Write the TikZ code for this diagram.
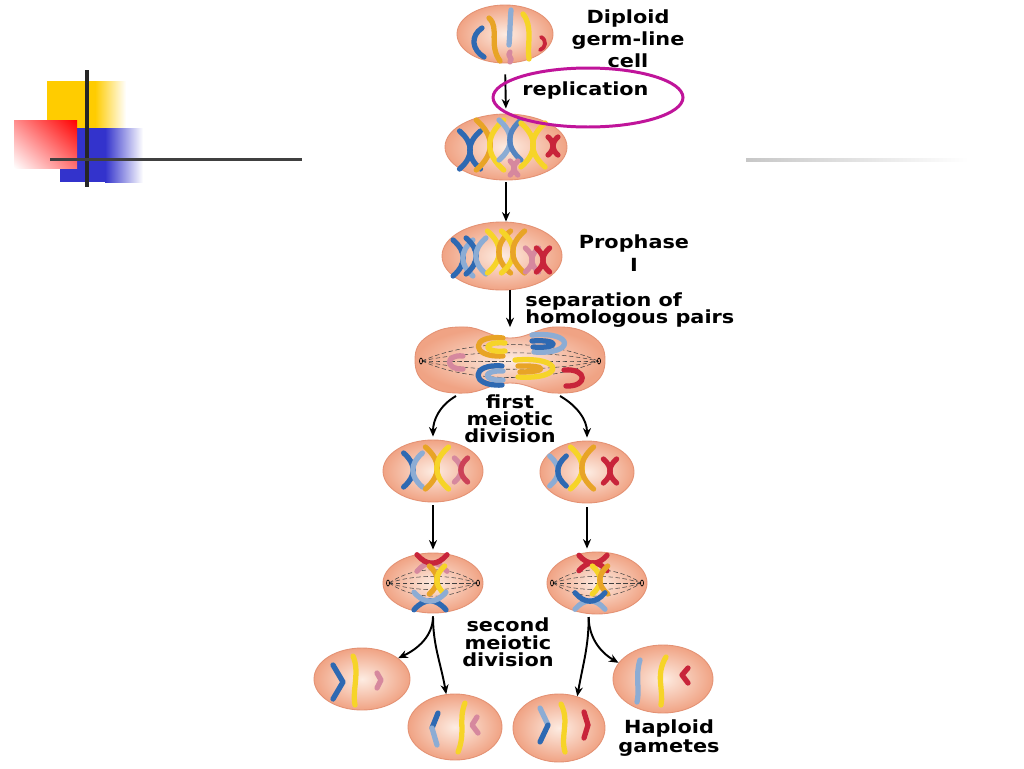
\documentclass[tikz,border=0pt]{standalone}
\usepackage{fontspec}
\setmainfont{DejaVu Sans}
\usetikzlibrary{arrows.meta,shapes.geometric,shadings}

\definecolor{cellin}{RGB}{253,236,226}
\definecolor{cellout}{RGB}{240,163,132}
\definecolor{cellrim}{RGB}{228,146,116}
\definecolor{chB}{RGB}{46,105,178}
\definecolor{chL}{RGB}{140,172,212}
\definecolor{chY}{RGB}{246,212,40}
\definecolor{chO}{RGB}{232,164,38}
\definecolor{chP}{RGB}{214,136,158}
\definecolor{chR}{RGB}{200,36,58}
\definecolor{ringc}{RGB}{192,20,154}
\definecolor{logoY}{RGB}{255,204,0}
\definecolor{logoB}{RGB}{51,51,204}

\tikzset{
  cell/.style={ellipse, draw=cellrim, line width=0.5pt, inner color=cellin, outer color=cellout, inner sep=0pt},
  arr/.style={line width=1.1pt, -{Stealth[length=1.9mm,width=1.6mm]}},
  lbl/.style={font={\bfseries\fontsize{10.3}{#1}\selectfont\lineskiplimit=-2em}, align=center, xscale=1.15, inner sep=0pt},
  lbl/.default=12.5pt,
  chrom/.style={line width=3pt, line cap=round, line join=round},
  spindle/.style={line width=0.3pt, black!75, dash pattern=on 2.5pt off 1.5pt},
}

% x y left right half-height
\newcommand\chrX[5]{%
  \draw[chrom,#3] (#1-0.55*#5,#2-#5) .. controls (#1+0.2*#5,#2-0.35*#5) and (#1+0.2*#5,#2+0.35*#5) .. (#1-0.55*#5,#2+#5);
  \draw[chrom,#4] (#1+0.55*#5,#2-#5) .. controls (#1-0.2*#5,#2-0.35*#5) and (#1-0.2*#5,#2+0.35*#5) .. (#1+0.55*#5,#2+#5);}

\begin{document}
\begin{tikzpicture}[x=0.02cm, y=-0.02cm]
    \useasboundingbox (0,0) rectangle (1024,768);
    \fill[white] (0,0) rectangle (1024,768);

    % corner logo
    \fill[logoY] (47,81) rectangle (96,130);
    \shade[left color=logoY, right color=white] (95,81) rectangle (126,130);
    \fill[logoB] (60,128) rectangle (106,182);
    \shade[left color=logoB, right color=white] (105,128) rectangle (143,182);
    \shade[upper right=red, upper left=red!45!white, lower left=white, lower right=red!55!white] (14,120) rectangle (77,168);
    \draw[line width=0.07cm, black!85] (87,70) -- (87,187);
    \draw[line width=0.06cm, black!75] (50,159) -- (302,159);
    \shade[left color=black!22, right color=white] (746,158.5) rectangle (968,161.5);

    % cells
    \node[cell, minimum width=1.92cm, minimum height=1.16cm] (c0) at (505,34) {};
    \node[cell, minimum width=2.44cm, minimum height=1.32cm] (c1) at (506,147) {};
    \node[cell, minimum width=2.4cm, minimum height=1.36cm] (c2) at (502,256) {};
    \node[minimum width=3.8cm, minimum height=1.3cm, inner sep=0pt] (m1) at (510,360) {};
    \draw[draw=cellrim, line width=0.5pt, inner color=cellin, outer color=cellout] plot[smooth cycle, tension=0.75] coordinates {(415,360) (428,336) (465,327) (510,338) (555,327) (592,336) (605,360) (592,385) (555,393) (510,383) (465,393) (428,385)};
    \node[cell, minimum width=2cm, minimum height=1.24cm] (l1) at (433,471) {};
    \node[cell, minimum width=1.88cm, minimum height=1.24cm] (r1) at (587,472) {};
    \node[cell, minimum width=2cm, minimum height=1.2cm] (m2l) at (433,583) {};
    \node[cell, minimum width=2cm, minimum height=1.24cm] (m2r) at (597,583) {};
    \node[cell, minimum width=1.92cm, minimum height=1.24cm] (g1) at (362,679) {};
    \node[cell, minimum width=1.88cm, minimum height=1.32cm] (g2) at (455,727) {};
    \node[cell, minimum width=1.84cm, minimum height=1.36cm] (g3) at (559,728) {};
    \node[cell, minimum width=2cm, minimum height=1.36cm] (g4) at (663,679) {};

    % spindles
    \foreach \b in {-22,-11,0,11,22} {
        \draw[spindle] (422,361) .. controls (470,361+\b) and (550,361+\b) .. (598,361);
        \draw[spindle] (389,583) .. controls (415,583+0.8*\b) and (451,583+0.8*\b) .. (477,583);
        \draw[spindle] (553,583) .. controls (579,583+0.8*\b) and (615,583+0.8*\b) .. (641,583);
    }
    \foreach \p in {(421,361),(599,361),(388,583),(478,583),(552,583),(642,583)}
        \draw[line width=0.4pt] \p ellipse (1.5 and 3);

    % germ-line cell
    \draw[chrom,chB] (482,28) .. controls (470,36) and (472,50) .. (484,57);
    \draw[chrom,chO] (489,18) .. controls (500,28) and (488,44) .. (500,61);
    \draw[chrom,chL] (511,10) .. controls (510,22) and (510,34) .. (509,45);
    \draw[chrom,chP] (510,52) .. controls (506,56) and (514,58) .. (510,62);
    \draw[chrom,chY] (523,14) .. controls (533,26) and (527,44) .. (529,59);
    \draw[chrom,chR,line width=2.2pt] (541,37) .. controls (547,40) and (546,48) .. (540,50);

    % after replication
    \chrX{470}{150}{chB}{chB}{19}
    \chrX{490}{145}{chO}{chY}{25}
    \chrX{510}{140}{chL}{chB!60!chL}{20}
    \chrX{514}{168}{chP}{chP}{7}
    \chrX{533}{145}{chY}{chY}{22}
    \chrX{553}{146}{chR}{chR}{9}

    % prophase I
    \chrX{463}{258}{chB}{chL}{18}
    \chrX{476}{256}{chB}{chL}{18}
    \chrX{499}{252}{chY}{chO}{21}
    \chrX{513}{252}{chY}{chO}{21}
    \chrX{532}{260}{chP}{chP}{12}
    \chrX{543}{260}{chR}{chR}{12}

    % pairs pulled apart
    \draw[chrom,chO] (503,338) .. controls (470,334) and (470,358) .. (503,356);
    \draw[chrom,chY] (505,343) .. controls (482,341) and (482,353) .. (505,351);
    \draw[chrom,chL] (532,335) .. controls (575,331) and (575,355) .. (534,352);
    \draw[chrom,chB] (532,341) .. controls (560,339) and (560,349) .. (533,347);
    \draw[chrom,chP] (463,356) .. controls (445,354) and (445,370) .. (463,369);
    \draw[chrom,chB] (502,366) .. controls (470,363) and (470,387) .. (502,385);
    \draw[chrom,chL] (503,371) .. controls (482,370) and (482,381) .. (503,380);
    \draw[chrom,chY] (515,360) .. controls (565,356) and (565,380) .. (518,377);
    \draw[chrom,chO] (518,366) .. controls (548,365) and (548,372) .. (520,372);
    \draw[chrom,chR] (564,370) .. controls (588,368) and (588,387) .. (566,386);

    % first division products
    \chrX{413}{470}{chB}{chL}{17}
    \chrX{437}{468}{chO}{chY}{21}
    \chrX{461}{470}{chP}{chR!70!chP}{12}
    \chrX{558}{471}{chL}{chB}{15}
    \chrX{582}{468}{chY}{chO}{21}
    \chrX{610}{471}{chR}{chR}{12}

    % second metaphase
    \begin{scope}[rotate around={90:(432,563)}] \chrX{432}{563}{chP}{chR}{15} \end{scope}
    \chrX{437}{580}{chO}{chY}{14}
    \begin{scope}[rotate around={90:(430,601)}] \chrX{430}{601}{chB}{chL}{16} \end{scope}
    \begin{scope}[rotate around={90:(593,563)}] \chrX{593}{563}{chR}{chR}{14} \end{scope}
    \chrX{600}{580}{chY}{chO}{14}
    \begin{scope}[rotate around={90:(590,601)}] \chrX{590}{601}{chL}{chB}{15} \end{scope}

    % gametes
    \draw[chrom,chB] (333,665) -- (343,682) -- (333,699);
    \draw[chrom,chY] (353,656) .. controls (360,672) and (352,690) .. (355,705);
    \draw[chrom,chP] (377,673) -- (381,680) -- (377,688);
    \draw[chrom,chB] (438,713) -- (432,728);
    \draw[chrom,chL] (432,728) -- (437,745);
    \draw[chrom,chY] (465,703) .. controls (458,720) and (466,732) .. (458,752);
    \draw[chrom,chP] (477,717) -- (472,725) -- (478,733);
    \draw[chrom,chL] (540,708) -- (548,725);
    \draw[chrom,chB] (548,725) -- (540,742);
    \draw[chrom,chY] (561,704) .. controls (570,722) and (560,735) .. (565,752);
    \draw[chrom,chR] (584,712) -- (588,725) -- (584,738);
    \draw[chrom,chL] (640,660) .. controls (635,675) and (640,690) .. (637,702);
    \draw[chrom,chY] (666,657) .. controls (655,675) and (664,690) .. (661,705);
    \draw[chrom,chR] (688,668) -- (682,675) -- (688,683);

    % arrows
    \coordinate (s1) at (456,396);
    \coordinate (s2) at (560,396);
    \draw[arr, shorten <=0.22cm, shorten >=0.1cm] (c0.south) -- (c1.north);
    \draw[arr, shorten <=0.04cm] (c1.south) -- (c1.south |- c2.north);
    \draw[arr] (m1.north |- c2.south) -- (m1.north);
    \draw[arr, shorten >=0.06cm] (s1) to[out=210,in=90] (l1.north);
    \draw[arr, shorten >=0.06cm] (s2) to[out=-30,in=90] (r1.north);
    \draw[arr, shorten <=0.06cm, shorten >=0.06cm] (l1.south) -- (m2l.north);
    \draw[arr, shorten <=0.08cm, shorten >=0.06cm] (r1.south) -- (r1.south |- m2r.north);
    \draw[arr, shorten <=0.06cm] (m2l.south) to[out=-90,in=25] (g1.30);
    \draw[arr, shorten <=0.06cm] (m2l.south) to[out=-90,in=100] (g2.105);
    \draw[arr, shorten <=0.06cm] (m2r.255) to[out=-90,in=80] (g3.60);
    \draw[arr, shorten <=0.06cm] (m2r.255) to[out=-90,in=150] (g4.160);

    % labels
    \node[lbl, anchor=north] (tdip) at (628,9) {Diploid\\germ-line\\cell};
    \node[lbl, anchor=base west] (trep) at (522,95) {replication};
    \node[ellipse, draw=ringc, line width=1.7pt, minimum width=3.8cm, minimum height=1.18cm] (ring) at (588,97.5) {};
    \node[lbl=13.1pt, anchor=north] (tpro) at (634,234) {Prophase\\I};
    \node[lbl=9.8pt, anchor=north west, align=left] (tsep) at (525,292) {separation of\\homologous pairs};
    \node[lbl=9.9pt, anchor=north] (tfirst) at (510,394) {first\\meiotic\\division};
    \node[lbl=10.2pt, anchor=north] (tsec) at (508,617) {second\\meiotic\\division};
    \node[lbl=10.8pt, anchor=north] (thap) at (669,719) {Haploid\\gametes};
\end{tikzpicture}
\end{document}
